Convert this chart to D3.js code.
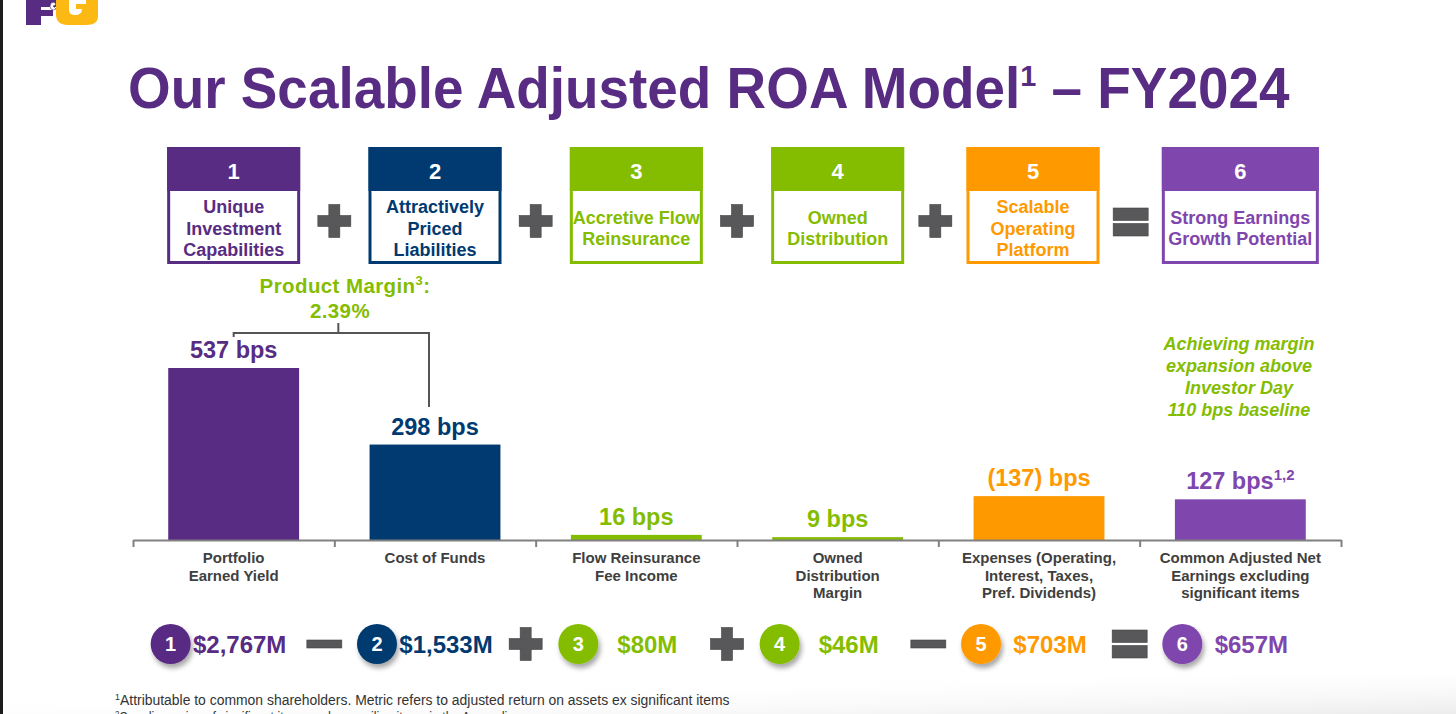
<!DOCTYPE html>
<html>
<head>
<meta charset="utf-8">
<script src="https://cdn.jsdelivr.net/npm/d3@7"></script>
<style>
  body { margin: 0; background: #fff; }
  svg { display: block; font-family: "Liberation Sans", Arial, sans-serif; }
</style>
</head>
<body>
<div class="roa"></div>
<script>
// Data ---------------------------------------------------------------------
const steps = ["1", "2", "3", "4", "5", "6"];
const stepTitles = [
  ["Unique", "Investment", "Capabilities"],
  ["Attractively", "Priced", "Liabilities"],
  ["Accretive Flow", "Reinsurance"],
  ["Owned", "Distribution"],
  ["Scalable", "Operating", "Platform"],
  ["Strong Earnings", "Growth Potential"]
];
const stepOps = ["+", "+", "+", "+", "="];
const categories = [
  ["Portfolio", "Earned Yield"],
  ["Cost of Funds"],
  ["Flow Reinsurance", "Fee Income"],
  ["Owned", "Distribution", "Margin"],
  ["Expenses (Operating,", "Interest, Taxes,", "Pref. Dividends)"],
  ["Common Adjusted Net", "Earnings excluding", "significant items"]
];
const bps = [537, 298, 16, 9, 137, 127];
const bpsLabels = ["537 bps", "298 bps", "16 bps", "9 bps", "(137) bps", "127 bps"];
const bpsNotes = ["", "", "", "", "", "1,2"];
const amounts = ["$2,767M", "$1,533M", "$80M", "$46M", "$703M", "$657M"];
const amountOps = ["-", "+", "+", "-", "="];
const colors = ["#582c83", "#003a70", "#84bd00", "#84bd00", "#ff9900", "#7f46ad"];
const marginLines = ["Product Margin", "2.39%"];
const noteLines = ["Achieving margin", "expansion above", "Investor Day", "110 bps baseline"];
const footnotes = [
  ["1", "Attributable to common shareholders. Metric refers to adjusted return on assets ex significant items"],
  ["2", "See discussion of significant items and reconciling items in the Appendix"]
];

// SVG Dimensions ---------------------------------------------------------------------
const width = 1456;
const height = 714;
const purple = "#582c83";
const green = "#84bd00";
const gray = "#58585a";

const svg = d3.select(".roa")
  .append("svg")
  .attr("width", width)
  .attr("height", height);

const defs = svg.append("defs");
defs.append("filter").attr("id", "shadow")
  .attr("x", "-50%").attr("y", "-50%").attr("width", "200%").attr("height", "200%")
  .append("feDropShadow")
  .attr("dx", 2).attr("dy", 4).attr("stdDeviation", 2.5)
  .attr("flood-color", "#000").attr("flood-opacity", 0.35);
const grad = defs.append("linearGradient").attr("id", "fade")
  .attr("x1", 0).attr("y1", 0).attr("x2", 1).attr("y2", 1);
grad.append("stop").attr("offset", 0.3).attr("stop-color", "#fff").attr("stop-opacity", 0);
grad.append("stop").attr("offset", 1).attr("stop-color", "#ececec").attr("stop-opacity", 1);

svg.append("rect").attr("x", 0).attr("y", 675).attr("width", width).attr("height", 39)
  .attr("fill", "url(#fade)");
svg.append("rect").attr("x", 0).attr("y", 0).attr("width", 3).attr("height", height)
  .attr("fill", "#1c1c1c");

// Logo mark (cropped at top) ---------------------------------------------------------------------
const logo = svg.append("g");
logo.append("path")
  .attr("d", "M26,0 H56 V7 H41 V10 H53 V16 H41 V25 H26 Z")
  .attr("fill", purple);
logo.append("path")
  .attr("d", "M56,0 H98 V16 Q98,25 86,25 H68 Q56,25 56,14 Z M69,0 V10 Q69,15 75,15 Q82,15 82,9 H76 V4 H86 V0 Z")
  .attr("fill", "#fdb913").attr("fill-rule", "evenodd");
logo.append("path")
  .attr("d", "M51,3 q3,-2 5,1 q-1,2 -3,2 l3,3 q-3,2 -5,0 q-2,-2 0,-6 Z")
  .attr("fill", "#fff").attr("stroke", purple).attr("stroke-width", 0.6);

// Title ---------------------------------------------------------------------
const title = svg.append("text")
  .attr("x", 128).attr("y", 108)
  .attr("font-size", 57).attr("font-weight", "bold").attr("fill", purple);
title.append("tspan").text("Our Scalable Adjusted ROA Model");
title.append("tspan").attr("font-size", 30).attr("dy", -22).text("1");
title.append("tspan").attr("dy", 22).text(" \u2013 FY2024");
const tw = title.node().getBBox().width;
title.attr("transform", `translate(128,0) scale(${1162 / tw},1) translate(-128,0)`);

// Scales ---------------------------------------------------------------------
const axisLeft = 133, axisRight = 1341, baseY = 540;
const xScale = d3.scaleBand()
  .domain(d3.range(bps.length))
  .range([axisLeft, axisRight])
  .paddingInner(0.35)
  .paddingOuter(0.175);
const edgeScale = d3.scaleLinear().domain([0, bps.length]).range([axisLeft, axisRight]);
const yScale = d3.scaleLinear().domain([0, 537]).range([baseY, 368]);
const cx = i => xScale(i) + xScale.bandwidth() / 2;

// Operator glyphs ---------------------------------------------------------------------
function drawOp(g, op, x, y, s) {
  const o = g.append("g").attr("transform", `translate(${x},${y})`)
    .attr("fill", gray).attr("stroke", "#444").attr("stroke-width", 0.6);
  if (op === "+") {
    o.append("rect").attr("x", -s / 2).attr("y", -5.5).attr("width", s).attr("height", 11);
    o.append("rect").attr("x", -5.5).attr("y", -s / 2).attr("width", 11).attr("height", s);
    o.append("rect").attr("x", -s / 2 + 0.6).attr("y", -4.9).attr("width", s - 1.2).attr("height", 9.8).attr("stroke", "none");
  } else if (op === "-") {
    o.append("rect").attr("x", -s / 2 - 1).attr("y", -4).attr("width", s + 2).attr("height", 8);
  } else {
    o.append("rect").attr("x", -s / 2 - 1).attr("y", -14).attr("width", s + 2).attr("height", 12.5);
    o.append("rect").attr("x", -s / 2 - 1).attr("y", 1.5).attr("width", s + 2).attr("height", 12.5);
  }
}

// Step boxes ---------------------------------------------------------------------
const boxTop = 147, boxBottom = 264, headBottom = 191;
const boxW = i => (i === steps.length - 1 ? 157 : 133);
const boxX = i => cx(i) - boxW(i) / 2 - (i === 4 ? 6 : 0);
const boxes = svg.append("g").selectAll("g").data(steps).join("g")
  .attr("transform", (d, i) => `translate(${boxX(i)},${boxTop})`);
boxes.append("rect")
  .attr("x", 1.5).attr("y", 1.5)
  .attr("width", (d, i) => boxW(i) - 3).attr("height", boxBottom - boxTop - 3)
  .attr("fill", "#fff").attr("stroke", (d, i) => colors[i]).attr("stroke-width", 3);
boxes.append("rect")
  .attr("width", (d, i) => boxW(i)).attr("height", headBottom - boxTop)
  .attr("fill", (d, i) => colors[i]);
boxes.append("rect")
  .attr("x", 3).attr("y", headBottom - boxTop)
  .attr("width", (d, i) => boxW(i) - 6).attr("height", 1.5)
  .attr("fill", "#fff").attr("opacity", 0.6);
boxes.append("text")
  .attr("x", (d, i) => boxW(i) / 2).attr("y", 32)
  .attr("text-anchor", "middle").attr("font-size", 22).attr("font-weight", "bold")
  .attr("fill", "#fff").text(d => d);
boxes.each(function (d, i) {
  const lines = stepTitles[i];
  const mid = 228 - boxTop;
  d3.select(this).append("text")
    .attr("text-anchor", "middle").attr("font-size", 18).attr("font-weight", "bold")
    .attr("fill", colors[i])
    .selectAll("tspan").data(lines).join("tspan")
    .attr("x", boxW(i) / 2)
    .attr("y", (l, j) => mid + (j - (lines.length - 1) / 2) * 21.5 + 6.5)
    .text(l => l);
});
const opsTop = svg.append("g");
stepOps.forEach((op, i) => {
  const right = boxX(i) + boxW(i);
  const left = boxX(i + 1);
  drawOp(opsTop, op, (right + left) / 2, op === "=" ? 222 : 221, 33);
});

// Product margin bracket ---------------------------------------------------------------------
const pm = svg.append("text")
  .attr("x", 345).attr("y", 293).attr("text-anchor", "middle")
  .attr("font-size", 20.5).attr("font-weight", "bold").attr("fill", green)
  .attr("letter-spacing", 0.4);
pm.append("tspan").text(marginLines[0]);
pm.append("tspan").attr("font-size", 13).attr("dy", -8).text("3");
pm.append("tspan").attr("dy", 8).text(":");
svg.append("text")
  .attr("x", 340).attr("y", 318).attr("text-anchor", "middle")
  .attr("font-size", 20.5).attr("font-weight", "bold").attr("fill", green)
  .attr("letter-spacing", 0.4).text(marginLines[1]);
const bx0 = cx(0), bx1 = cx(1) - 6, bmid = (bx0 + bx1) / 2 + 7;
svg.append("path")
  .attr("d", `M${bx0},337 V333 H${bx1} V407 M${bmid},333 V323`)
  .attr("fill", "none").attr("stroke", "#555").attr("stroke-width", 2);

// Note ---------------------------------------------------------------------
svg.append("text")
  .attr("text-anchor", "middle").attr("font-size", 18).attr("font-weight", "bold")
  .attr("font-style", "italic").attr("fill", green)
  .selectAll("tspan").data(noteLines).join("tspan")
  .attr("x", 1239).attr("y", (d, i) => 350 + i * 22).text(d => d);

// Bars ---------------------------------------------------------------------
svg.append("g").selectAll("rect").data(bps).join("rect")
  .attr("x", (d, i) => xScale(i))
  .attr("y", d => yScale(d))
  .attr("width", xScale.bandwidth())
  .attr("height", d => baseY - yScale(d))
  .attr("fill", (d, i) => colors[i]);

const vals = svg.append("g").selectAll("text").data(bps).join("text")
  .attr("x", (d, i) => cx(i))
  .attr("y", d => yScale(d) - 10)
  .attr("text-anchor", "middle").attr("font-size", 23.5).attr("font-weight", "bold")
  .attr("fill", (d, i) => colors[i]);
vals.append("tspan").text((d, i) => bpsLabels[i]);
vals.append("tspan").attr("font-size", 15).attr("dy", -9).text((d, i) => bpsNotes[i]);

// Axis ---------------------------------------------------------------------
const xAxis = d3.axisBottom(edgeScale)
  .tickValues(d3.range(bps.length + 1))
  .tickSize(7).tickSizeOuter(0).tickFormat("");
const axisG = svg.append("g")
  .attr("transform", `translate(0,${baseY})`)
  .call(xAxis);
axisG.selectAll("path, line").attr("stroke", "#808080").attr("stroke-width", 2);

svg.append("g").selectAll("text").data(categories).join("text")
  .attr("text-anchor", "middle").attr("font-size", 15).attr("font-weight", "bold")
  .attr("fill", "#404040")
  .each(function (lines, i) {
    d3.select(this).selectAll("tspan").data(lines).join("tspan")
      .attr("x", cx(i)).attr("y", (l, j) => 563 + j * 17.5).text(l => l);
  });

// Dollar row ---------------------------------------------------------------------
const rowY = 644;
const circX = i => cx(i) - 58 - (i === 0 ? 5 : 0);
const row = svg.append("g").selectAll("g").data(amounts).join("g");
row.append("circle")
  .attr("cx", (d, i) => circX(i)).attr("cy", rowY).attr("r", 20)
  .attr("fill", (d, i) => colors[i]).attr("filter", "url(#shadow)");
row.append("text")
  .attr("x", (d, i) => circX(i)).attr("y", rowY + 7)
  .attr("text-anchor", "middle").attr("font-size", 20).attr("font-weight", "bold")
  .attr("fill", "#fff").text((d, i) => steps[i]);
row.append("text")
  .attr("x", (d, i) => circX(i) + 69).attr("y", rowY + 8.5)
  .attr("text-anchor", "middle").attr("font-size", 24).attr("font-weight", "bold")
  .attr("fill", (d, i) => colors[i]).text(d => d);
const opsRow = svg.append("g");
amountOps.forEach((op, i) => drawOp(opsRow, op, edgeScale(i + 1) - 10, rowY, 33));

// Footnotes ---------------------------------------------------------------------
footnotes.forEach(([mark, txt], i) => {
  const t = svg.append("text")
    .attr("x", 115).attr("y", 705 + i * 17)
    .attr("font-size", 14).attr("fill", "#333");
  t.append("tspan").attr("font-size", 9).attr("dy", -5).text(mark);
  t.append("tspan").attr("dy", 5).text(txt);
  if (i === 0) {
    const w = t.node().getBBox().width;
    t.attr("transform", `translate(115,0) scale(${615 / w},1) translate(-115,0)`);
  } else {
    t.attr("transform", `translate(115,0) scale(0.88,1) translate(-115,0)`);
  }
});
</script>
</body>
</html>
